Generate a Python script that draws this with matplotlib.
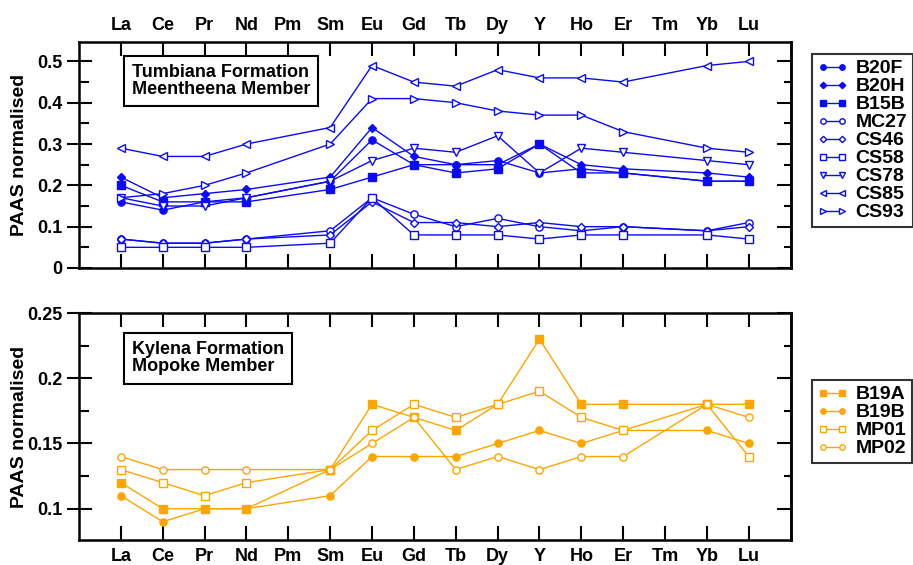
import numpy as np
import matplotlib
matplotlib.use('Agg')
import matplotlib.pyplot as plt
from matplotlib.ticker import MultipleLocator

plt.rc('font', family='Liberation Sans', weight='bold', size=13)

elements = ['La', 'Ce', 'Pr', 'Nd', 'Pm', 'Sm', 'Eu', 'Gd', 'Tb', 'Dy',
            'Y', 'Ho', 'Er', 'Tm', 'Yb', 'Lu']
# Pm and Tm were not measured
measured = ['La', 'Ce', 'Pr', 'Nd', 'Sm', 'Eu', 'Gd', 'Tb', 'Dy',
            'Y', 'Ho', 'Er', 'Yb', 'Lu']

# Tumbiana Formation, Meentheena Member
B20F = [0.16, 0.14, 0.16, 0.17, 0.21, 0.31, 0.25, 0.25, 0.26, 0.23, 0.24, 0.23, 0.21, 0.21]
B20H = [0.22, 0.17, 0.18, 0.19, 0.22, 0.34, 0.27, 0.25, 0.25, 0.30, 0.25, 0.24, 0.23, 0.22]
B15B = [0.20, 0.16, 0.16, 0.16, 0.19, 0.22, 0.25, 0.23, 0.24, 0.30, 0.23, 0.23, 0.21, 0.21]
MC27 = [0.07, 0.06, 0.06, 0.07, 0.09, 0.17, 0.13, 0.10, 0.12, 0.10, 0.09, 0.10, 0.09, 0.11]
CS46 = [0.07, 0.06, 0.06, 0.07, 0.08, 0.16, 0.11, 0.11, 0.10, 0.11, 0.10, 0.10, 0.09, 0.10]
CS58 = [0.05, 0.05, 0.05, 0.05, 0.06, 0.17, 0.08, 0.08, 0.08, 0.07, 0.08, 0.08, 0.08, 0.07]
CS78 = [0.17, 0.15, 0.15, 0.17, 0.21, 0.26, 0.29, 0.28, 0.32, 0.23, 0.29, 0.28, 0.26, 0.25]
CS85 = [0.29, 0.27, 0.27, 0.30, 0.34, 0.49, 0.45, 0.44, 0.48, 0.46, 0.46, 0.45, 0.49, 0.50]
CS93 = [0.17, 0.18, 0.20, 0.23, 0.30, 0.41, 0.41, 0.40, 0.38, 0.37, 0.37, 0.33, 0.29, 0.28]

# Kylena Formation, Mopoke Member
B19A = [0.12, 0.10, 0.10, 0.10, 0.13, 0.18, 0.17, 0.16, 0.18, 0.23, 0.18, 0.18, 0.18, 0.18]
B19B = [0.11, 0.09, 0.10, 0.10, 0.11, 0.14, 0.14, 0.14, 0.15, 0.16, 0.15, 0.16, 0.16, 0.15]
MP01 = [0.13, 0.12, 0.11, 0.12, 0.13, 0.16, 0.18, 0.17, 0.18, 0.19, 0.17, 0.16, 0.18, 0.14]
MP02 = [0.14, 0.13, 0.13, 0.13, 0.13, 0.15, 0.17, 0.13, 0.14, 0.13, 0.14, 0.14, 0.18, 0.17]

top_series = [('B20F', B20F, 'o', True), ('B20H', B20H, 'D', True), ('B15B', B15B, 's', True),
              ('MC27', MC27, 'o', False), ('CS46', CS46, 'D', False), ('CS58', CS58, 's', False),
              ('CS78', CS78, 'v', False), ('CS85', CS85, '<', False), ('CS93', CS93, '>', False)]
bot_series = [('B19A', B19A, 's', True), ('B19B', B19B, 'o', True),
              ('MP01', MP01, 's', False), ('MP02', MP02, 'o', False)]

xpos = [elements.index(e) for e in measured]
blue = '#0a0aff'
orange = '#ffa500'

fig = plt.figure(figsize=(9.13, 5.65), dpi=100)
ax1 = fig.add_axes([0.0865, 0.5257, 0.7795, 0.40])
ax2 = fig.add_axes([0.0865, 0.0442, 0.7795, 0.4018])


def draw(ax, series, col):
    for name, vals, mk, filled in series:
        ms = 4.3 if mk == 'D' else 5.2
        if mk in ('v', '<', '>'):
            ms = 5.8
        ax.plot(xpos, vals, '-', color=col, lw=1.0, marker=mk, ms=ms,
                mfc=col if filled else 'white', mec=col, mew=1.0, label=name)


def style(ax, ylim, major, minor, top_labels):
    ax.set_xlim(-1, 16)
    ax.set_ylim(*ylim)
    ax.set_xticks(range(len(elements)))
    ax.set_xticklabels(elements)
    ax.tick_params(axis='x', direction='in', length=10, width=1.5, top=True, bottom=True,
                   labeltop=top_labels, labelbottom=not top_labels, pad=6)
    ax.yaxis.set_major_locator(MultipleLocator(major))
    ax.yaxis.set_minor_locator(MultipleLocator(minor))
    ax.tick_params(axis='y', which='major', direction='inout', length=18, width=1.5, pad=3)
    ax.tick_params(axis='y', which='minor', direction='in', length=7, width=1.5)
    sec = ax.secondary_yaxis('right')
    sec.yaxis.set_major_locator(MultipleLocator(major))
    sec.yaxis.set_minor_locator(MultipleLocator(minor))
    sec.tick_params(which='major', direction='in', length=10, width=1.5, labelright=False)
    sec.tick_params(which='minor', direction='in', length=5, width=1.5)
    for s in ax.spines.values():
        s.set_linewidth(1.8)
    sec.spines['right'].set_linewidth(1.8)
    ax.set_ylabel('PAAS normalised', fontsize=14, fontweight='bold')
    ax.yaxis.set_label_coords(-0.072, 0.5)


def legend(ax, anchor_y):
    leg = ax.legend(loc='upper left', bbox_to_anchor=(1.0295, anchor_y), numpoints=2,
                    handlelength=1.55, markerscale=0.75, fontsize=14, frameon=True,
                    fancybox=False, edgecolor='black', borderpad=0.3, borderaxespad=0,
                    labelspacing=0.02, handletextpad=0.4)
    leg.get_frame().set_linewidth(1.5)


draw(ax1, top_series, blue)
style(ax1, (0, 0.547), 0.1, 0.05, True)
ax1.yaxis.set_major_formatter(plt.FuncFormatter(lambda v, p: '0' if v == 0 else f'{v:.1f}'))
ax1.text(0.074, 0.827, 'Tumbiana Formation\nMeentheena Member', transform=ax1.transAxes,
         fontsize=13, va='center', ha='left', linespacing=1.0,
         bbox=dict(boxstyle='square,pad=0.45', fc='white', ec='black', lw=1.5))
legend(ax1, 0.947)

draw(ax2, bot_series, orange)
style(ax2, (0.076, 0.25), 0.05, 0.025, False)
ax2.yaxis.set_major_formatter(plt.FuncFormatter(lambda v, p: f'{v:g}'))
ax2.text(0.074, 0.80, 'Kylena Formation\nMopoke Member', transform=ax2.transAxes,
         fontsize=13, va='center', ha='left', linespacing=1.0,
         bbox=dict(boxstyle='square,pad=0.45', fc='white', ec='black', lw=1.5))
legend(ax2, 0.705)

fig.savefig('out.png', dpi=100)
